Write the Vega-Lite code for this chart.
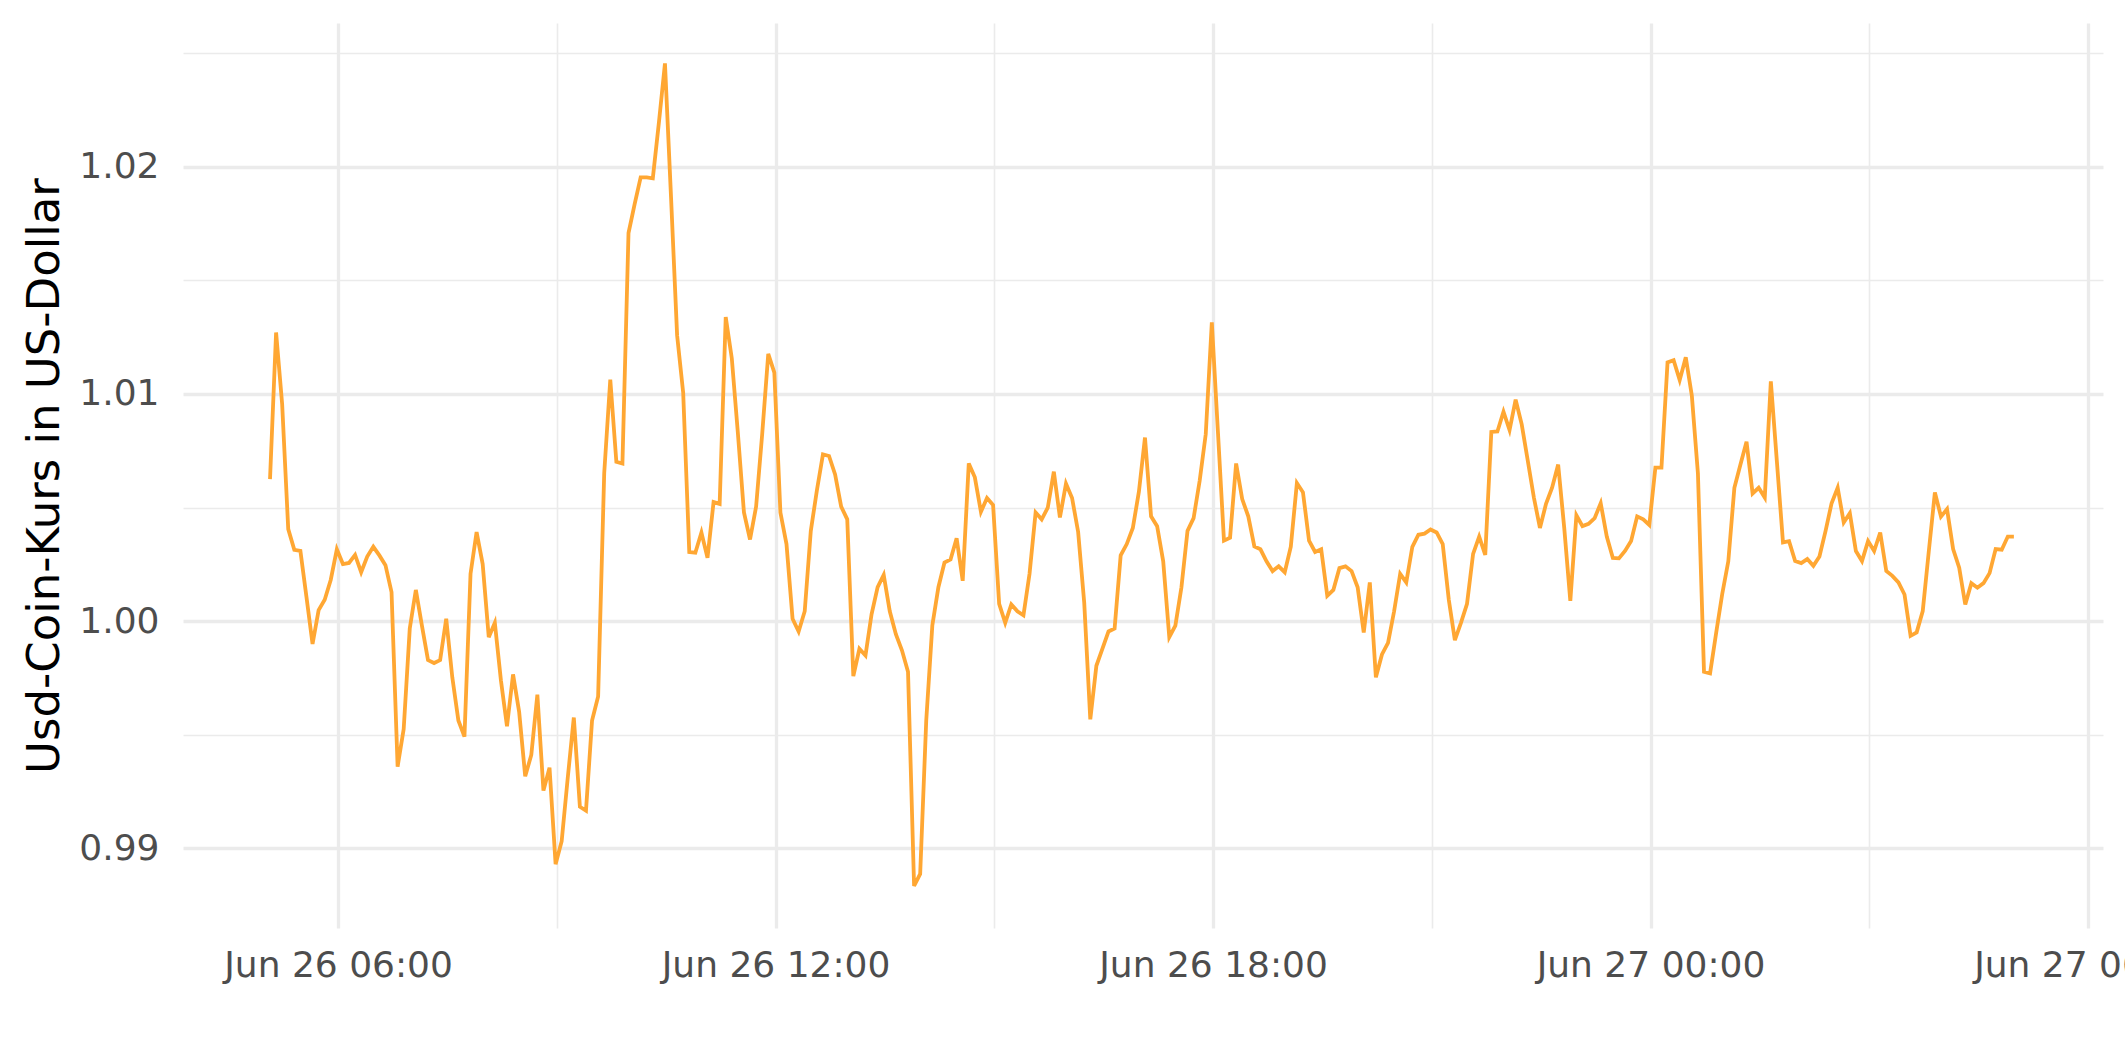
{
"$schema": "https://vega.github.io/schema/vega-lite/v6.json",
"width": 1920, "height": 905,
"autosize": {"type": "none"},
"padding": {"left": 183, "top": 23, "right": 22, "bottom": 134},
"background": "white",
"config": {"view": {"stroke": null}, "axis": {"domain": false, "ticks": false, "tickSize": 0, "gridColor": "#EBEBEB", "labelFont": "DejaVu Sans", "titleFont": "DejaVu Sans", "labelLimit": 0}},
"data": {"values": [
{"t":"2022-06-26T05:04","v":1.00625},{"t":"2022-06-26T05:09","v":1.01271},{"t":"2022-06-26T05:14","v":1.00954},{"t":"2022-06-26T05:19","v":1.00405},{"t":"2022-06-26T05:24","v":1.00314},{"t":"2022-06-26T05:29","v":1.00309},{"t":"2022-06-26T05:34","v":1.00106},{"t":"2022-06-26T05:39","v":0.99899},{"t":"2022-06-26T05:44","v":1.00048},{"t":"2022-06-26T05:49","v":1.00094},{"t":"2022-06-26T05:54","v":1.00182},{"t":"2022-06-26T05:59","v":1.00316},
{"t":"2022-06-26T06:04","v":1.00251},{"t":"2022-06-26T06:09","v":1.00256},{"t":"2022-06-26T06:14","v":1.00291},{"t":"2022-06-26T06:19","v":1.00215},{"t":"2022-06-26T06:24","v":1.00284},{"t":"2022-06-26T06:29","v":1.00327},{"t":"2022-06-26T06:34","v":1.00289},{"t":"2022-06-26T06:39","v":1.00246},{"t":"2022-06-26T06:44","v":1.00127},{"t":"2022-06-26T06:49","v":0.99359},{"t":"2022-06-26T06:54","v":0.99524},{"t":"2022-06-26T06:59","v":0.99967},
{"t":"2022-06-26T07:04","v":1.00137},{"t":"2022-06-26T07:09","v":0.99980},{"t":"2022-06-26T07:14","v":0.99828},{"t":"2022-06-26T07:19","v":0.99815},{"t":"2022-06-26T07:24","v":0.99828},{"t":"2022-06-26T07:29","v":1.00010},{"t":"2022-06-26T07:34","v":0.99752},{"t":"2022-06-26T07:39","v":0.99562},{"t":"2022-06-26T07:44","v":0.99491},{"t":"2022-06-26T07:49","v":1.00208},{"t":"2022-06-26T07:54","v":1.00392},{"t":"2022-06-26T07:59","v":1.00251},
{"t":"2022-06-26T08:04","v":0.99929},{"t":"2022-06-26T08:09","v":0.99992},{"t":"2022-06-26T08:14","v":0.99739},{"t":"2022-06-26T08:19","v":0.99537},{"t":"2022-06-26T08:24","v":0.99765},{"t":"2022-06-26T08:29","v":0.99600},{"t":"2022-06-26T08:34","v":0.99316},{"t":"2022-06-26T08:39","v":0.99410},{"t":"2022-06-26T08:44","v":0.99676},{"t":"2022-06-26T08:49","v":0.99253},{"t":"2022-06-26T08:54","v":0.99354},{"t":"2022-06-26T08:59","v":0.98929},
{"t":"2022-06-26T09:04","v":0.99030},{"t":"2022-06-26T09:09","v":0.99309},{"t":"2022-06-26T09:14","v":0.99575},{"t":"2022-06-26T09:19","v":0.99182},{"t":"2022-06-26T09:24","v":0.99165},{"t":"2022-06-26T09:29","v":0.99562},{"t":"2022-06-26T09:34","v":0.99668},{"t":"2022-06-26T09:39","v":1.00651},{"t":"2022-06-26T09:44","v":1.01063},{"t":"2022-06-26T09:49","v":1.00701},{"t":"2022-06-26T09:54","v":1.00694},{"t":"2022-06-26T09:59","v":1.01709},
{"t":"2022-06-26T10:04","v":1.01835},{"t":"2022-06-26T10:09","v":1.01954},{"t":"2022-06-26T10:14","v":1.01954},{"t":"2022-06-26T10:19","v":1.01950},{"t":"2022-06-26T10:24","v":1.02195},{"t":"2022-06-26T10:29","v":1.02456},{"t":"2022-06-26T10:34","v":1.01866},{"t":"2022-06-26T10:39","v":1.01258},{"t":"2022-06-26T10:44","v":1.01005},{"t":"2022-06-26T10:49","v":1.00304},{"t":"2022-06-26T10:54","v":1.00301},{"t":"2022-06-26T10:59","v":1.00390},
{"t":"2022-06-26T11:04","v":1.00278},{"t":"2022-06-26T11:09","v":1.00524},{"t":"2022-06-26T11:14","v":1.00516},{"t":"2022-06-26T11:19","v":1.01339},{"t":"2022-06-26T11:24","v":1.01157},{"t":"2022-06-26T11:29","v":1.00828},{"t":"2022-06-26T11:34","v":1.00478},{"t":"2022-06-26T11:39","v":1.00359},{"t":"2022-06-26T11:44","v":1.00504},{"t":"2022-06-26T11:49","v":1.00823},{"t":"2022-06-26T11:54","v":1.01177},{"t":"2022-06-26T11:59","v":1.01094},
{"t":"2022-06-26T12:04","v":1.00478},{"t":"2022-06-26T12:09","v":1.00339},{"t":"2022-06-26T12:14","v":1.00010},{"t":"2022-06-26T12:19","v":0.99954},{"t":"2022-06-26T12:24","v":1.00043},{"t":"2022-06-26T12:29","v":1.00397},{"t":"2022-06-26T12:34","v":1.00575},{"t":"2022-06-26T12:39","v":1.00734},{"t":"2022-06-26T12:44","v":1.00727},{"t":"2022-06-26T12:49","v":1.00646},{"t":"2022-06-26T12:54","v":1.00504},{"t":"2022-06-26T12:59","v":1.00448},
{"t":"2022-06-26T13:04","v":0.99757},{"t":"2022-06-26T13:09","v":0.99878},{"t":"2022-06-26T13:14","v":0.99848},{"t":"2022-06-26T13:19","v":1.00030},{"t":"2022-06-26T13:24","v":1.00149},{"t":"2022-06-26T13:29","v":1.00203},{"t":"2022-06-26T13:34","v":1.00043},{"t":"2022-06-26T13:39","v":0.99942},{"t":"2022-06-26T13:44","v":0.99871},{"t":"2022-06-26T13:49","v":0.99777},{"t":"2022-06-26T13:54","v":0.98833},{"t":"2022-06-26T13:59","v":0.98886},
{"t":"2022-06-26T14:04","v":0.99562},{"t":"2022-06-26T14:09","v":0.99980},{"t":"2022-06-26T14:14","v":1.00149},{"t":"2022-06-26T14:19","v":1.00258},{"t":"2022-06-26T14:24","v":1.00271},{"t":"2022-06-26T14:29","v":1.00365},{"t":"2022-06-26T14:34","v":1.00177},{"t":"2022-06-26T14:39","v":1.00694},{"t":"2022-06-26T14:44","v":1.00633},{"t":"2022-06-26T14:49","v":1.00481},{"t":"2022-06-26T14:54","v":1.00542},{"t":"2022-06-26T14:59","v":1.00511},
{"t":"2022-06-26T15:04","v":1.00076},{"t":"2022-06-26T15:09","v":0.99992},{"t":"2022-06-26T15:14","v":1.00073},{"t":"2022-06-26T15:19","v":1.00043},{"t":"2022-06-26T15:24","v":1.00025},{"t":"2022-06-26T15:29","v":1.00208},{"t":"2022-06-26T15:34","v":1.00478},{"t":"2022-06-26T15:39","v":1.00448},{"t":"2022-06-26T15:44","v":1.00499},{"t":"2022-06-26T15:49","v":1.00658},{"t":"2022-06-26T15:54","v":1.00456},{"t":"2022-06-26T15:59","v":1.00605},
{"t":"2022-06-26T16:04","v":1.00542},{"t":"2022-06-26T16:09","v":1.00392},{"t":"2022-06-26T16:14","v":1.00081},{"t":"2022-06-26T16:19","v":0.99567},{"t":"2022-06-26T16:24","v":0.99803},{"t":"2022-06-26T16:29","v":0.99878},{"t":"2022-06-26T16:34","v":0.99954},{"t":"2022-06-26T16:39","v":0.99967},{"t":"2022-06-26T16:44","v":1.00289},{"t":"2022-06-26T16:49","v":1.00339},{"t":"2022-06-26T16:54","v":1.00410},{"t":"2022-06-26T16:59","v":1.00570},
{"t":"2022-06-26T17:04","v":1.00808},{"t":"2022-06-26T17:09","v":1.00461},{"t":"2022-06-26T17:14","v":1.00418},{"t":"2022-06-26T17:19","v":1.00263},{"t":"2022-06-26T17:24","v":0.99929},{"t":"2022-06-26T17:29","v":0.99980},{"t":"2022-06-26T17:34","v":1.00149},{"t":"2022-06-26T17:39","v":1.00397},{"t":"2022-06-26T17:44","v":1.00453},{"t":"2022-06-26T17:49","v":1.00618},{"t":"2022-06-26T17:54","v":1.00823},{"t":"2022-06-26T17:59","v":1.01316},
{"t":"2022-06-26T18:04","v":1.00835},{"t":"2022-06-26T18:09","v":1.00354},{"t":"2022-06-26T18:14","v":1.00367},{"t":"2022-06-26T18:19","v":1.00694},{"t":"2022-06-26T18:24","v":1.00537},{"t":"2022-06-26T18:29","v":1.00461},{"t":"2022-06-26T18:34","v":1.00329},{"t":"2022-06-26T18:39","v":1.00316},{"t":"2022-06-26T18:44","v":1.00263},{"t":"2022-06-26T18:49","v":1.00220},{"t":"2022-06-26T18:54","v":1.00241},{"t":"2022-06-26T18:59","v":1.00215},
{"t":"2022-06-26T19:04","v":1.00327},{"t":"2022-06-26T19:09","v":1.00608},{"t":"2022-06-26T19:14","v":1.00567},{"t":"2022-06-26T19:19","v":1.00354},{"t":"2022-06-26T19:24","v":1.00304},{"t":"2022-06-26T19:29","v":1.00316},{"t":"2022-06-26T19:34","v":1.00111},{"t":"2022-06-26T19:39","v":1.00137},{"t":"2022-06-26T19:44","v":1.00233},{"t":"2022-06-26T19:49","v":1.00241},{"t":"2022-06-26T19:54","v":1.00220},{"t":"2022-06-26T19:59","v":1.00149},
{"t":"2022-06-26T20:04","v":0.99949},{"t":"2022-06-26T20:09","v":1.00170},{"t":"2022-06-26T20:14","v":0.99752},{"t":"2022-06-26T20:19","v":0.99853},{"t":"2022-06-26T20:24","v":0.99904},{"t":"2022-06-26T20:29","v":1.00043},{"t":"2022-06-26T20:34","v":1.00208},{"t":"2022-06-26T20:39","v":1.00170},{"t":"2022-06-26T20:44","v":1.00327},{"t":"2022-06-26T20:49","v":1.00380},{"t":"2022-06-26T20:54","v":1.00385},{"t":"2022-06-26T20:59","v":1.00403},
{"t":"2022-06-26T21:04","v":1.00390},{"t":"2022-06-26T21:09","v":1.00339},{"t":"2022-06-26T21:14","v":1.00094},{"t":"2022-06-26T21:19","v":0.99916},{"t":"2022-06-26T21:24","v":0.99992},{"t":"2022-06-26T21:29","v":1.00076},{"t":"2022-06-26T21:34","v":1.00296},{"t":"2022-06-26T21:39","v":1.00372},{"t":"2022-06-26T21:44","v":1.00291},{"t":"2022-06-26T21:49","v":1.00833},{"t":"2022-06-26T21:54","v":1.00835},{"t":"2022-06-26T21:59","v":1.00922},
{"t":"2022-06-26T22:04","v":1.00841},{"t":"2022-06-26T22:09","v":1.00975},{"t":"2022-06-26T22:14","v":1.00866},{"t":"2022-06-26T22:19","v":1.00706},{"t":"2022-06-26T22:24","v":1.00544},{"t":"2022-06-26T22:29","v":1.00410},{"t":"2022-06-26T22:34","v":1.00516},{"t":"2022-06-26T22:39","v":1.00587},{"t":"2022-06-26T22:44","v":1.00689},{"t":"2022-06-26T22:49","v":1.00410},{"t":"2022-06-26T22:54","v":1.00089},{"t":"2022-06-26T22:59","v":1.00466},
{"t":"2022-06-26T23:04","v":1.00418},{"t":"2022-06-26T23:09","v":1.00428},{"t":"2022-06-26T23:14","v":1.00453},{"t":"2022-06-26T23:19","v":1.00519},{"t":"2022-06-26T23:24","v":1.00372},{"t":"2022-06-26T23:29","v":1.00278},{"t":"2022-06-26T23:34","v":1.00276},{"t":"2022-06-26T23:39","v":1.00309},{"t":"2022-06-26T23:44","v":1.00352},{"t":"2022-06-26T23:49","v":1.00461},{"t":"2022-06-26T23:54","v":1.00448},{"t":"2022-06-26T23:59","v":1.00423},
{"t":"2022-06-27T00:04","v":1.00676},{"t":"2022-06-27T00:09","v":1.00676},{"t":"2022-06-27T00:14","v":1.01139},{"t":"2022-06-27T00:19","v":1.01149},{"t":"2022-06-27T00:24","v":1.01061},{"t":"2022-06-27T00:29","v":1.01162},{"t":"2022-06-27T00:34","v":1.00992},{"t":"2022-06-27T00:39","v":1.00651},{"t":"2022-06-27T00:44","v":0.99777},{"t":"2022-06-27T00:49","v":0.99770},{"t":"2022-06-27T00:54","v":0.99947},{"t":"2022-06-27T00:59","v":1.00119},
{"t":"2022-06-27T01:04","v":1.00263},{"t":"2022-06-27T01:09","v":1.00587},{"t":"2022-06-27T01:14","v":1.00689},{"t":"2022-06-27T01:19","v":1.00790},{"t":"2022-06-27T01:24","v":1.00562},{"t":"2022-06-27T01:29","v":1.00587},{"t":"2022-06-27T01:34","v":1.00544},{"t":"2022-06-27T01:39","v":1.01056},{"t":"2022-06-27T01:44","v":1.00701},{"t":"2022-06-27T01:49","v":1.00346},{"t":"2022-06-27T01:54","v":1.00352},{"t":"2022-06-27T01:59","v":1.00264},
{"t":"2022-06-27T02:04","v":1.00255},{"t":"2022-06-27T02:09","v":1.00273},{"t":"2022-06-27T02:14","v":1.00243},{"t":"2022-06-27T02:19","v":1.00284},{"t":"2022-06-27T02:24","v":1.00396},{"t":"2022-06-27T02:29","v":1.00519},{"t":"2022-06-27T02:34","v":1.00587},{"t":"2022-06-27T02:39","v":1.00434},{"t":"2022-06-27T02:44","v":1.00475},{"t":"2022-06-27T02:49","v":1.00308},{"t":"2022-06-27T02:54","v":1.00264},{"t":"2022-06-27T02:59","v":1.00352},
{"t":"2022-06-27T03:04","v":1.00308},{"t":"2022-06-27T03:09","v":1.00390},{"t":"2022-06-27T03:14","v":1.00220},{"t":"2022-06-27T03:19","v":1.00199},{"t":"2022-06-27T03:24","v":1.00170},{"t":"2022-06-27T03:29","v":1.00117},{"t":"2022-06-27T03:34","v":0.99935},{"t":"2022-06-27T03:39","v":0.99950},{"t":"2022-06-27T03:44","v":1.00044},{"t":"2022-06-27T03:49","v":1.00308},{"t":"2022-06-27T03:54","v":1.00566},{"t":"2022-06-27T03:59","v":1.00460},
{"t":"2022-06-27T04:04","v":1.00493},{"t":"2022-06-27T04:09","v":1.00317},{"t":"2022-06-27T04:14","v":1.00235},{"t":"2022-06-27T04:19","v":1.00073},{"t":"2022-06-27T04:24","v":1.00167},{"t":"2022-06-27T04:29","v":1.00147},{"t":"2022-06-27T04:34","v":1.00167},{"t":"2022-06-27T04:39","v":1.00211},{"t":"2022-06-27T04:44","v":1.00317},{"t":"2022-06-27T04:49","v":1.00314},{"t":"2022-06-27T04:54","v":1.00372},{"t":"2022-06-27T04:59","v":1.00372}
]},
"layer": [
{"mark": {"type": "line", "opacity": 0},
 "encoding": {
  "x": {"field": "t", "type": "temporal",
        "scale": {"domain": [{"year": 2022, "month": 6, "date": 26, "hours": 3, "minutes": 52, "seconds": 24}, {"year": 2022, "month": 6, "date": 27, "hours": 6, "minutes": 12, "seconds": 20}], "nice": false},
        "axis": {"orient": "bottom", "title": null, "labels": false, "grid": true, "gridWidth": 1.6,
                 "values": [{"year": 2022, "month": 6, "date": 26, "hours": 9}, {"year": 2022, "month": 6, "date": 26, "hours": 15}, {"year": 2022, "month": 6, "date": 26, "hours": 21}, {"year": 2022, "month": 6, "date": 27, "hours": 3}]}},
  "y": {"field": "v", "type": "quantitative",
        "scale": {"domain": [0.98648, 1.02634], "nice": false, "zero": false},
        "axis": {"orient": "left", "title": null, "labels": false, "grid": true, "gridWidth": 1.6, "values": [0.995, 1.005, 1.015, 1.025]}}
 }},
{"mark": {"type": "line", "color": "#FFA733", "strokeWidth": 3.8},
 "encoding": {
  "x": {"field": "t", "type": "temporal",
        "scale": {"domain": [{"year": 2022, "month": 6, "date": 26, "hours": 3, "minutes": 52, "seconds": 24}, {"year": 2022, "month": 6, "date": 27, "hours": 6, "minutes": 12, "seconds": 20}], "nice": false},
        "axis": {"orient": "bottom", "title": null, "grid": true, "gridWidth": 3.3, "format": "%b %d %H:%M",
                 "labelFontSize": 36, "labelColor": "#4D4D4D", "labelPadding": 20, "labelOverlap": false, "labelBound": false, "labelFlush": false, "labelLimit": 0,
                 "values": [{"year": 2022, "month": 6, "date": 26, "hours": 6}, {"year": 2022, "month": 6, "date": 26, "hours": 12}, {"year": 2022, "month": 6, "date": 26, "hours": 18}, {"year": 2022, "month": 6, "date": 27, "hours": 0}, {"year": 2022, "month": 6, "date": 27, "hours": 6}]}},
  "y": {"field": "v", "type": "quantitative",
        "scale": {"domain": [0.98648, 1.02634], "nice": false, "zero": false},
        "axis": {"orient": "left", "grid": true, "gridWidth": 3.3, "values": [0.99, 1.00, 1.01, 1.02], "format": ".2f",
                 "labelFontSize": 36, "labelColor": "#4D4D4D", "labelPadding": 24, "labelLimit": 0,
                 "title": "Usd-Coin-Kurs in US-Dollar", "titleFontSize": 45, "titleColor": "black", "titleFontWeight": "normal",
                 "titleAngle": -90, "titleX": -125, "titleY": 452.5, "titleBaseline": "alphabetic", "titleAlign": "center"}}
 }}
],
"resolve": {"axis": {"x": "independent", "y": "independent"}}
}
